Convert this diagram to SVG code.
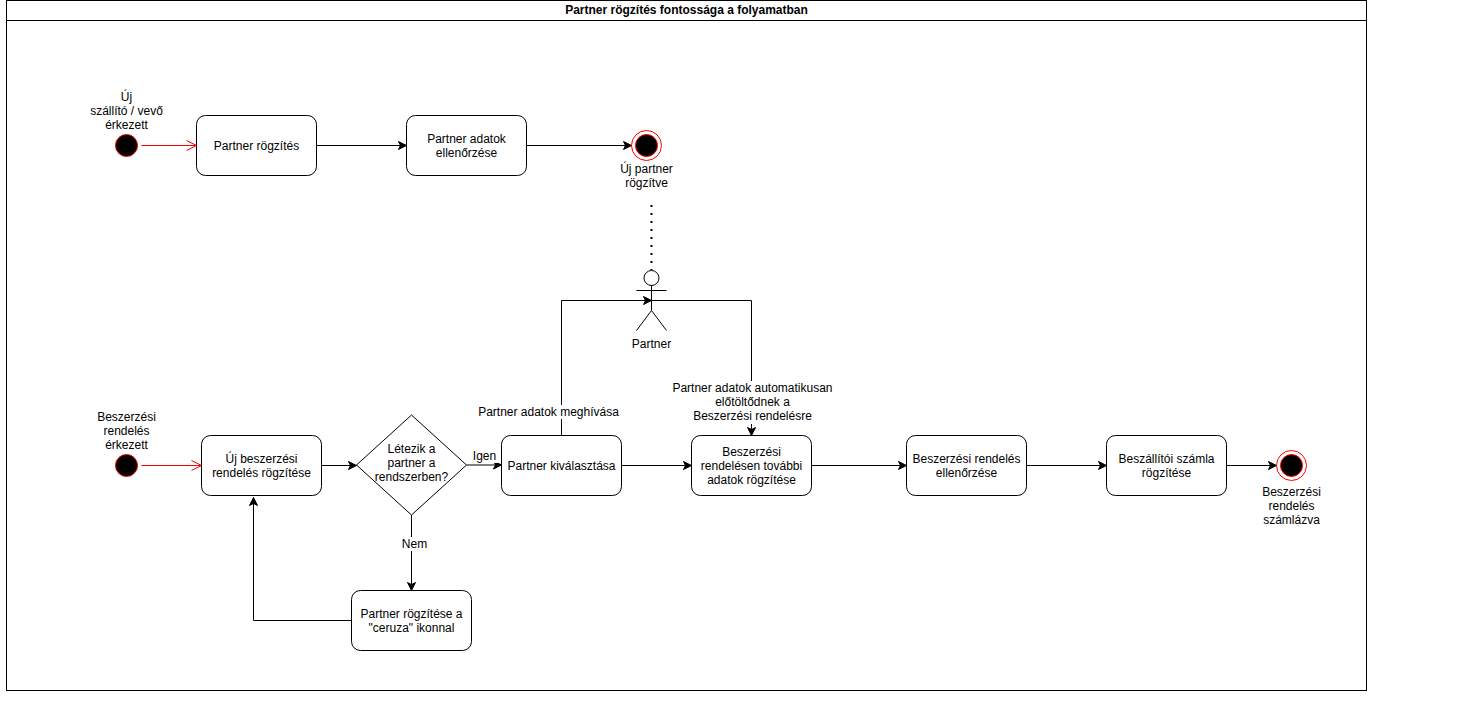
<svg xmlns="http://www.w3.org/2000/svg" width="1457" height="701" viewBox="0 0 1457 701">
<style>
text{font-family:"Liberation Sans",Arial,sans-serif;font-size:12px;fill:#000;text-anchor:middle}
.title{font-weight:bold}
.box{fill:#fff;stroke:#000;stroke-width:1}
.c{fill:none;stroke:#000;stroke-width:1}
.start{fill:#000;stroke:#f00;stroke-width:1}
.ring{fill:none;stroke:#f00;stroke-width:1}
.red{fill:none;stroke:#f00;stroke-width:1}
.dot{fill:none;stroke:#000;stroke-width:2;stroke-dasharray:2 6}
</style>
<defs>
<marker id="a" markerUnits="userSpaceOnUse" markerWidth="10" markerHeight="10" refX="8" refY="4.5" orient="auto" overflow="visible"><path d="M0 0.5L8 4.5L0 8.5L2 4.5Z" fill="#000" stroke="#000"/></marker>
<marker id="o" markerUnits="userSpaceOnUse" markerWidth="12" markerHeight="12" refX="10" refY="5" orient="auto" overflow="visible"><path d="M0 0L10 5L0 10" fill="none" stroke="#f00"/></marker>
</defs>
<rect width="1457" height="701" fill="#fff"/>
<g id="frame">
<rect class="box" x="6.5" y="0.5" width="1360" height="690"/>
<path class="c" d="M6.5 20.5H1366.5"/>
<text class="title" x="686.5" y="14">Partner rögzítés fontossága a folyamatban</text>
</g>
<g id="connectors">
<path class="red" d="M141.5 145.5H196.5" marker-end="url(#o)"/>
<path class="red" d="M141.5 465.5H201.5" marker-end="url(#o)"/>
<path class="c" d="M316.5 145.5H406.5" marker-end="url(#a)"/>
<path class="c" d="M526.5 145.5H631.5" marker-end="url(#a)"/>
<path class="dot" d="M651.5 205V270"/>
<path class="c" d="M561.5 435.5V300.5H651.5" marker-end="url(#a)"/>
<path class="c" d="M651.5 300.5H751.5V435.5" marker-end="url(#a)"/>
<path class="c" d="M321.5 465.5H356.5" marker-end="url(#a)"/>
<path class="c" d="M466.5 465H501.5" marker-end="url(#a)"/>
<path class="c" d="M411.5 515V590.5" marker-end="url(#a)"/>
<path class="c" d="M351.5 620.5H253.5V497.5" marker-end="url(#a)"/>
<path class="c" d="M621.5 465.5H691.5" marker-end="url(#a)"/>
<path class="c" d="M811.5 465.5H906.5" marker-end="url(#a)"/>
<path class="c" d="M1026.5 465.5H1106.5" marker-end="url(#a)"/>
<path class="c" d="M1226.5 465.5H1276.5" marker-end="url(#a)"/>
<rect x="472" y="449" width="26" height="14" fill="#fff"/>
<text x="484.5" y="460">Igen</text>
<rect x="400" y="537" width="28" height="14" fill="#fff"/>
<text x="414.5" y="548">Nem</text>
<rect x="477" y="405" width="143" height="14" fill="#fff"/>
<text x="548.5" y="416">Partner adatok meghívása</text>
<rect x="671" y="381" width="163" height="43" fill="#fff"/>
<text x="752.5" y="392">Partner adatok automatikusan</text>
<text x="752.5" y="406">előtöltődnek a</text>
<text x="752.5" y="420">Beszerzési rendelésre</text>
</g>
<g id="start1">
<circle class="start" cx="126.5" cy="145.5" r="11"/>
<text x="126.5" y="101">Új</text><text x="126.5" y="115">szállító / vevő</text><text x="126.5" y="129">érkezett</text>
</g>
<g id="partner-rogzites">
<rect class="box" x="196.5" y="115.5" width="120" height="60" rx="9"/>
<text x="256.5" y="150">Partner rögzítés</text>
</g>
<g id="partner-ellenorzes">
<rect class="box" x="406.5" y="115.5" width="120" height="60" rx="9"/>
<text x="466.5" y="143">Partner adatok</text><text x="466.5" y="157">ellenőrzése</text>
</g>
<g id="end1">
<circle class="ring" cx="646.5" cy="145.5" r="15"/>
<circle class="start" cx="646.5" cy="145.5" r="11"/>
<text x="646.5" y="173">Új partner</text><text x="646.5" y="187">rögzítve</text>
</g>
<g id="actor">
<circle class="box" cx="651.5" cy="278" r="7.5"/>
<path class="c" d="M651.5 285.5V310.5M636.5 290.5H666.5M651.5 310.5L636.5 330.5M651.5 310.5L666.5 330.5"/>
<text x="651.5" y="348">Partner</text>
</g>
<g id="start2">
<circle class="start" cx="126.5" cy="465.5" r="11"/>
<text x="126.5" y="421">Beszerzési</text><text x="126.5" y="435">rendelés</text><text x="126.5" y="449">érkezett</text>
</g>
<g id="uj-rendeles">
<rect class="box" x="201.5" y="435.5" width="120" height="60" rx="9"/>
<text x="261.5" y="463">Új beszerzési</text><text x="261.5" y="477">rendelés rögzítése</text>
</g>
<g id="dontes">
<path class="box" d="M411.5 415L466.5 465L411.5 515L356.5 465Z"/>
<text x="411.5" y="453">Létezik a</text><text x="411.5" y="467">partner a</text><text x="411.5" y="481">rendszerben?</text>
</g>
<g id="partner-kivalasztas">
<rect class="box" x="501.5" y="435.5" width="120" height="60" rx="9"/>
<text x="561.5" y="470">Partner kiválasztása</text>
</g>
<g id="partner-ceruza">
<rect class="box" x="351.5" y="590.5" width="120" height="60" rx="9"/>
<text x="411.5" y="618">Partner rögzítése a</text><text x="411.5" y="632">"ceruza" ikonnal</text>
</g>
<g id="tovabbi-adatok">
<rect class="box" x="691.5" y="435.5" width="120" height="60" rx="9"/>
<text x="751.5" y="456">Beszerzési</text><text x="751.5" y="470">rendelésen további</text><text x="751.5" y="484">adatok rögzítése</text>
</g>
<g id="rendeles-ellenorzes">
<rect class="box" x="906.5" y="435.5" width="120" height="60" rx="9"/>
<text x="966.5" y="463">Beszerzési rendelés</text><text x="966.5" y="477">ellenőrzése</text>
</g>
<g id="szamla">
<rect class="box" x="1106.5" y="435.5" width="120" height="60" rx="9"/>
<text x="1166.5" y="463">Beszállítói számla</text><text x="1166.5" y="477">rögzítése</text>
</g>
<g id="end2">
<circle class="ring" cx="1291.5" cy="465.5" r="15"/>
<circle class="start" cx="1291.5" cy="465.5" r="11"/>
<text x="1291.5" y="496">Beszerzési</text><text x="1291.5" y="510">rendelés</text><text x="1291.5" y="524">számlázva</text>
</g>
</svg>
